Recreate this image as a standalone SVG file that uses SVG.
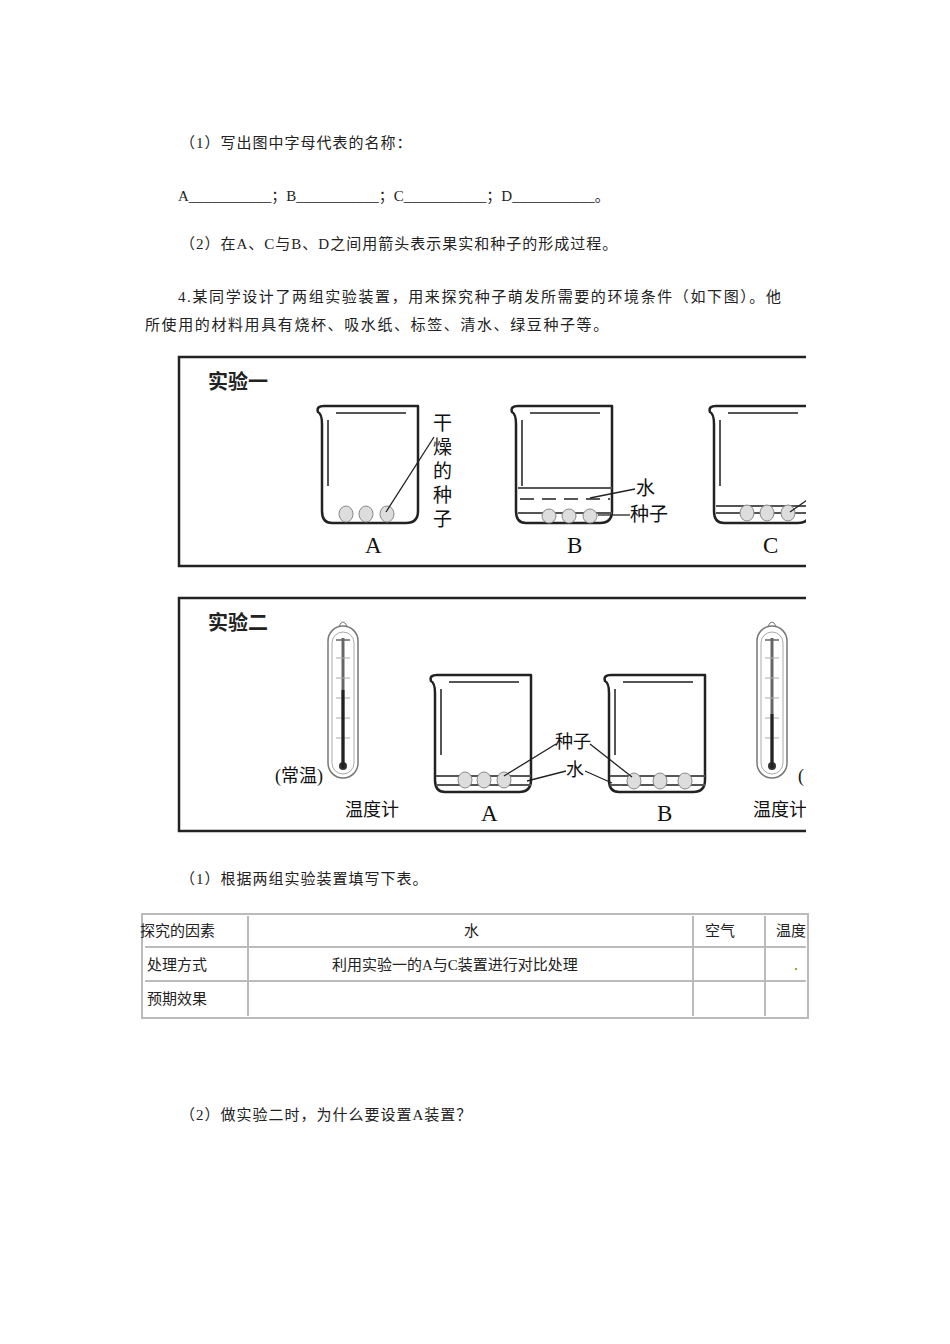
<svg xmlns="http://www.w3.org/2000/svg" width="950" height="1344" viewBox="0 0 950 1344">
<style>
.t{font-family:"Liberation Serif","Noto Sans CJK SC",serif;font-size:15px;fill:#222}
.lb{font-family:"Liberation Serif","Noto Sans CJK SC",serif;font-size:19px;fill:#111}
.L{font-family:"Liberation Serif",serif;font-size:23px;fill:#111}
.s{font-family:"Liberation Serif","Noto Sans CJK SC",serif;font-size:18px;fill:#111}
.h{font-family:"Noto Sans CJK SC",serif;font-size:20px;font-weight:bold;fill:#222}
.bk{fill:none;stroke:#222;stroke-width:2.5;stroke-linejoin:round}
.in{stroke:#555;stroke-width:2}
.ln{stroke:#222;stroke-width:1.3;fill:none}
.sd{fill:#ddd;stroke:#888;stroke-width:1}
.box{fill:none;stroke:#222;stroke-width:2.5}
.tb{stroke:#bbb;stroke-width:2;fill:none}
</style>
<defs>
<clipPath id="c"><rect x="0" y="0" width="806" height="1344"/></clipPath>
<g id="beaker">
<path class="bk" d="M0,6 Q-2,0 6,0 L100,0 L100,105 Q100,117 88,117 L14,117 Q4,117 4,105 L4,18 Q4,8 0,6Z"/>
<line class="in" x1="18" y1="7" x2="88" y2="7"/>
<line class="in" x1="10" y1="14" x2="10" y2="80"/>
</g>
<g id="thermo">
<rect x="0" y="8" width="30" height="152" rx="15" ry="15" fill="none" stroke="#777" stroke-width="1.5"/>
<rect x="4" y="14" width="22" height="142" rx="11" fill="none" stroke="#aaa" stroke-width="1"/>
<line x1="15" y1="20" x2="15" y2="148" stroke="#666" stroke-width="3"/>
<line x1="8" y1="22" x2="22" y2="22" stroke="#666" stroke-width="1.5"/>
<circle cx="15" cy="148" r="4" fill="#333"/>
<path d="M11,8 Q15,0 19,8" fill="none" stroke="#777"/>
<g stroke="#aaa" stroke-width="1"><line x1="8" y1="40" x2="22" y2="40"/><line x1="8" y1="60" x2="22" y2="60"/><line x1="8" y1="80" x2="22" y2="80"/><line x1="8" y1="100" x2="22" y2="100"/><line x1="8" y1="120" x2="22" y2="120"/></g>
</g>
</defs>
<text class="t" x="180" y="148" letter-spacing="1">（1）写出图中字母代表的名称：</text>
<text class="t" x="178" y="201">A___________；B___________；C___________；D___________。</text>
<text class="t" x="180" y="249" letter-spacing="1">（2）在A、C与B、D之间用箭头表示果实和种子的形成过程。</text>
<text class="t" x="178" y="302" letter-spacing="1.6">4.某同学设计了两组实验装置，用来探究种子萌发所需要的环境条件（如下图）。他</text>
<text class="t" x="145" y="330" letter-spacing="1.6">所使用的材料用具有烧杯、吸水纸、标签、清水、绿豆种子等。</text>
<g id="exp1" clip-path="url(#c)">
<path class="box" d="M810,357 L179,357 L179,566 L810,566"/>
<text class="h" x="208" y="389">实验一</text>
<g id="b1A"><use href="#beaker" x="318" y="406"/>
<ellipse class="sd" cx="346" cy="514" rx="7" ry="8"/><ellipse class="sd" cx="366" cy="514" rx="7" ry="8"/><ellipse class="sd" cx="387" cy="514" rx="7" ry="8"/>
<line class="ln" x1="386" y1="512" x2="434" y2="437"/>
<text class="lb" x="433" y="430">干</text><text class="lb" x="433" y="454">燥</text><text class="lb" x="433" y="478">的</text><text class="lb" x="433" y="502">种</text><text class="lb" x="433" y="526">子</text>
<text class="L" x="365" y="553">A</text></g>
<g id="b1B"><use href="#beaker" x="512" y="406"/>
<line class="in" x1="518" y1="488" x2="612" y2="488" stroke-width="1.3"/>
<line class="in" x1="520" y1="499" x2="610" y2="499" stroke-dasharray="14,8" stroke-width="1.3"/>
<line class="in" x1="518" y1="513" x2="612" y2="513" stroke-width="1.3"/>
<ellipse class="sd" cx="549" cy="516" rx="7" ry="7"/><ellipse class="sd" cx="569" cy="516" rx="7" ry="7"/><ellipse class="sd" cx="590" cy="516" rx="7" ry="7"/>
<line class="ln" x1="590" y1="498" x2="635" y2="489"/>
<line class="ln" x1="598" y1="515" x2="630" y2="515"/>
<text class="lb" x="636" y="495">水</text><text class="lb" x="630" y="521">种子</text>
<text class="L" x="567" y="553">B</text></g>
<g id="b1C"><use href="#beaker" x="710" y="406"/>
<line class="in" x1="716" y1="506" x2="810" y2="506" stroke-width="1.3"/>
<line class="in" x1="716" y1="513" x2="810" y2="513" stroke-width="1.3"/>
<ellipse class="sd" cx="747" cy="513" rx="7" ry="8"/><ellipse class="sd" cx="767" cy="513" rx="7" ry="8"/><ellipse class="sd" cx="788" cy="513" rx="7" ry="8"/>
<line class="ln" x1="790" y1="512" x2="810" y2="498"/>
<text class="L" x="763" y="553">C</text></g>
</g>
<g id="exp2" clip-path="url(#c)">
<path class="box" d="M810,598 L179,598 L179,831 L810,831"/>
<text class="h" x="208" y="630">实验二</text>
<g id="th1"><use href="#thermo" x="328" y="618"/>
<line x1="343" y1="690" x2="343" y2="768" stroke="#222" stroke-width="3"/>
<text class="s" x="275" y="782">(常温)</text>
<text class="s" x="345" y="816">温度计</text></g>
<g id="b2A"><use href="#beaker" x="431" y="675"/>
<line class="in" x1="436" y1="776" x2="531" y2="776" stroke-width="1.3"/>
<line class="in" x1="436" y1="785" x2="531" y2="785" stroke-width="1.3"/>
<ellipse class="sd" cx="465" cy="780" rx="7" ry="8"/><ellipse class="sd" cx="484" cy="780" rx="7" ry="8"/><ellipse class="sd" cx="504" cy="780" rx="7" ry="8"/>
<text class="L" x="481" y="821">A</text></g>
<g id="b2B"><use href="#beaker" x="605" y="675"/>
<line class="in" x1="610" y1="776" x2="705" y2="776" stroke-width="1.3"/>
<line class="in" x1="610" y1="785" x2="705" y2="785" stroke-width="1.3"/>
<ellipse class="sd" cx="634" cy="781" rx="7" ry="8"/><ellipse class="sd" cx="660" cy="781" rx="7" ry="8"/><ellipse class="sd" cx="685" cy="781" rx="7" ry="8"/>
<text class="L" x="657" y="821">B</text></g>
<g id="lbl2">
<text class="s" x="555" y="748">种子</text><text class="s" x="566" y="776">水</text>
<line class="ln" x1="556" y1="744" x2="504" y2="776"/>
<line class="ln" x1="590" y1="744" x2="632" y2="777"/>
<line class="ln" x1="566" y1="771" x2="527" y2="781"/>
<line class="ln" x1="585" y1="771" x2="612" y2="783"/>
</g>
<g id="th2"><use href="#thermo" x="757" y="618"/>
<line x1="772" y1="714" x2="772" y2="768" stroke="#222" stroke-width="3"/>
<text class="s" x="753" y="816">温度计</text>
<text class="s" x="798" y="782">(</text></g>
</g>
<text class="t" x="180" y="884" letter-spacing="1">（1）根据两组实验装置填写下表。</text>
<g id="table">
<rect class="tb" x="142" y="914" width="666" height="104"/>
<line class="tb" x1="145" y1="947" x2="806" y2="947"/><line class="tb" x1="145" y1="981" x2="806" y2="981"/>
<line class="tb" x1="248" y1="916" x2="248" y2="1016"/><line class="tb" x1="693" y1="916" x2="693" y2="1016"/><line class="tb" x1="765" y1="916" x2="765" y2="1016"/>
<text class="t" x="140" y="936">探究的因素</text>
<text class="t" x="464" y="936">水</text>
<text class="t" x="705" y="936">空气</text>
<text class="t" x="776" y="936">温度</text>
<text class="t" x="147" y="970">处理方式</text>
<text class="t" x="332" y="970">利用实验一的A与C装置进行对比处理</text>
<rect x="795" y="968" width="2" height="2" fill="#9a3"/>
<text class="t" x="147" y="1004">预期效果</text>
</g>
<text class="t" x="180" y="1120" letter-spacing="1">（2）做实验二时，为什么要设置A装置？</text>
</svg>
